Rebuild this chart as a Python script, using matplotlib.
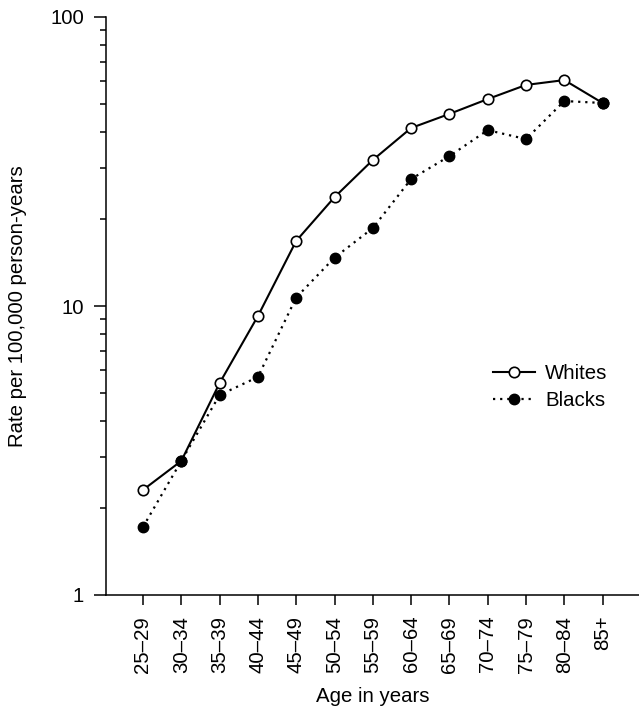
import matplotlib
matplotlib.use("Agg")
import matplotlib.pyplot as plt
from matplotlib.ticker import LogLocator, NullFormatter, FixedLocator, FixedFormatter

plt.rcParams['font.family'] = ['Liberation Sans', 'DejaVu Sans']

age_groups = ["25\u201329", "30\u201334", "35\u201339", "40\u201344", "45\u201349", "50\u201354",
              "55\u201359", "60\u201364", "65\u201369", "70\u201374", "75\u201379", "80\u201384", "85+"]
whites = [2.31, 2.91, 5.41, 9.23, 16.8, 23.8, 32.0, 41.3, 46.2, 52.0, 58.2, 60.5, 50.4]
blacks = [1.72, 2.91, 4.92, 5.68, 10.7, 14.7, 18.6, 27.5, 33.0, 40.6, 37.8, 51.2, 50.4]

FS = 14.7

fig = plt.figure(figsize=(6.39, 7.09), dpi=100)
ax = fig.add_axes([106/639, 114/709, 1 - 106/639, 578/709])

x = list(range(len(age_groups)))
ax.plot(x, whites, color='black', lw=1.5, marker='o', markersize=7.5,
        markerfacecolor='white', markeredgecolor='black', markeredgewidth=1.2,
        label='Whites', zorder=3)
ax.plot(x, blacks, color='black', lw=1.6, linestyle=(0, (1, 2.2)), marker='o',
        markersize=7.5, markerfacecolor='black', markeredgecolor='black',
        label='Blacks', zorder=4)

ax.set_yscale('log')
ax.set_ylim(1, 100)
ax.set_xlim(-0.966, 12.95)

ax.yaxis.set_major_locator(FixedLocator([1, 10, 100]))
ax.yaxis.set_major_formatter(FixedFormatter(['1', '10', '100']))
ax.yaxis.set_minor_locator(LogLocator(base=10, subs=range(2, 10)))
ax.yaxis.set_minor_formatter(NullFormatter())

ax.set_xticks(x)
ax.set_xticklabels(age_groups, rotation=90)

for s in ['top', 'right']:
    ax.spines[s].set_visible(False)
for s in ['left', 'bottom']:
    ax.spines[s].set_linewidth(1.1)

ax.tick_params(axis='y', which='major', direction='out', length=9, width=1.1,
               labelsize=FS, pad=7)
ax.tick_params(axis='y', which='minor', direction='out', length=4.5, width=1.1)
ax.tick_params(axis='x', which='major', direction='out', length=7.5, width=1.1,
               labelsize=FS, pad=7.5)

ax.set_ylabel('Rate per 100,000 person-years', fontsize=FS)
ax.yaxis.set_label_coords(-0.148, 0.5)
ax.set_xlabel('Age in years', fontsize=FS)
ax.xaxis.set_label_coords(0.5, -0.16)

leg = ax.legend(loc='center left', bbox_to_anchor=(0.726, 0.36), frameon=False,
                fontsize=FS, handlelength=2.05, handletextpad=0.5,
                labelspacing=0.4, borderpad=0, borderaxespad=0)

fig.savefig('out.png', dpi=100)
